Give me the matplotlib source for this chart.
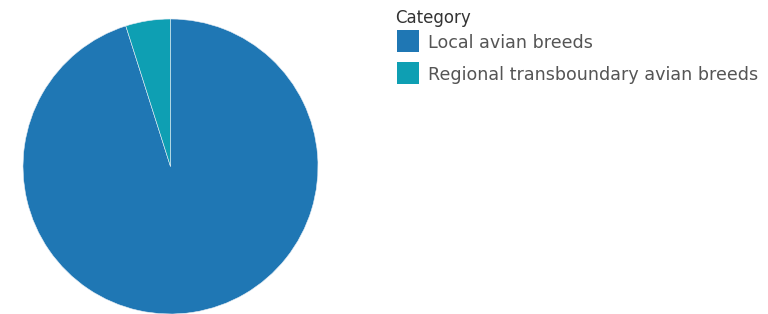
import matplotlib
import matplotlib.pyplot as plt
from matplotlib.patches import Rectangle

matplotlib.rcParams['font.family'] = ['DejaVu Sans']

categories = ['Local avian breeds', 'Regional transboundary avian breeds']
shares = [95.1, 4.9]
colors = ['#1f77b4', '#0e9fb3']

W, H = 768, 314
fig = plt.figure(figsize=(W / 100, H / 100), dpi=100)

# pie area: centre (170.5, 166.5) px, radius 147.5 px
ax = fig.add_axes([23 / W, 0 / H, 295 / W, 295 / H])
ax.pie(shares, colors=colors, startangle=90, counterclock=False, radius=1,
       wedgeprops=dict(linewidth=0.4, edgecolor='#e8eef5'))
ax.set_xlim(-1, 1)
ax.set_ylim(-1, 1)
ax.set_aspect('equal')
ax.axis('off')

# legend, laid out in pixel positions
fig.text(395 / W, 1 - 18 / H, 'Category', fontsize=12, color='#333333',
         va='center', ha='left')
for i, (lab, c) in enumerate(zip(categories, colors)):
    top = 30 + i * 32
    fig.patches.append(Rectangle((397 / W, 1 - (top + 22) / H), 22 / W, 22 / H,
                                 facecolor=c, edgecolor='none',
                                 transform=fig.transFigure, figure=fig))
    fig.text(428 / W, 1 - (top + 13) / H, lab, fontsize=12.6, color='#555555',
             va='center', ha='left')

fig.savefig('out.png', dpi=100)
